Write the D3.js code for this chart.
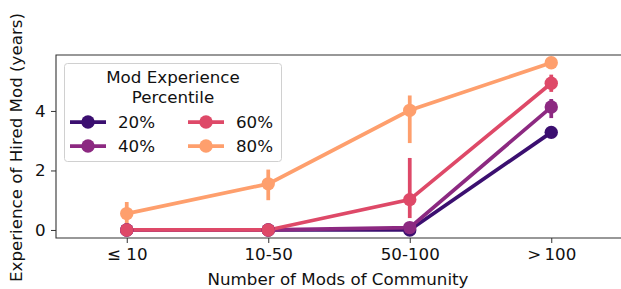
<!DOCTYPE html>
<html>
<head>
<meta charset="utf-8">
<script src="https://cdn.jsdelivr.net/npm/d3@7"></script>
<style>
  body { margin: 0; background: #fff; }
  svg { display: block; font-family: "DejaVu Sans", sans-serif; }
</style>
</head>
<body>
<div id="chart"></div>
<script>
// data
const categories = ["\u2264 10", "10-50", "50-100", ">\u2009100"];
const percentiles = ["20%", "40%", "60%", "80%"];
const colors = ["#3b0f70", "#8c2981", "#de4968", "#fe9f6d"];

const mean20 = [0, 0, 0, 3.28];
const mean40 = [0, 0, 0.08, 4.13];
const mean60 = [0, 0, 1.02, 4.93];
const mean80 = [0.55, 1.55, 4.02, 5.62];

const low20 = [0, 0, 0, 3.18];
const high20 = [0, 0, 0.02, 3.38];
const low40 = [0, 0, 0, 3.76];
const high40 = [0, 0, 0.2, 4.40];
const low60 = [0, 0, 0.40, 4.64];
const high60 = [0, 0, 2.42, 5.22];
const low80 = [-0.2, 1.0, 2.92, 5.50];
const high80 = [0.94, 2.03, 4.52, 5.72];

const yTicks = [0, 2, 4];

const series = [
    {name: percentiles[0], mean: mean20, low: low20, high: high20, color: colors[0]},
    {name: percentiles[1], mean: mean40, low: low40, high: high40, color: colors[1]},
    {name: percentiles[2], mean: mean60, low: low60, high: high60, color: colors[2]},
    {name: percentiles[3], mean: mean80, low: low80, high: high80, color: colors[3]}
];

const width = 621, height = 289;
const fontSize = 16.7;
const lw = 3.75, r = 6.7;
const plot = {left: 56, right: 622, top: 55, bottom: 238};

const svg = d3.select("#chart").append("svg")
    .attr("width", width)
    .attr("height", height);

const x = d3.scalePoint()
    .domain(categories)
    .range([plot.left, plot.right])
    .padding(0.5);

const y = d3.scaleLinear()
    .domain([-0.27, 5.88])
    .range([plot.bottom, plot.top]);

svg.append("clipPath").attr("id", "clip")
    .append("rect")
    .attr("x", plot.left).attr("y", plot.top)
    .attr("width", plot.right - plot.left)
    .attr("height", plot.bottom - plot.top);

const g = svg.append("g").attr("clip-path", "url(#clip)");

// lines and error bars per series
series.forEach(s => {
    const line = d3.line()
        .x((d, i) => x(categories[i]))
        .y(d => y(d));
    g.append("path")
        .datum(s.mean)
        .attr("d", line)
        .attr("fill", "none")
        .attr("stroke", s.color)
        .attr("stroke-width", lw);

    g.selectAll(null)
        .data(categories)
        .enter().append("line")
        .attr("x1", c => x(c))
        .attr("x2", c => x(c))
        .attr("y1", (c, i) => y(s.low[i]))
        .attr("y2", (c, i) => y(s.high[i]))
        .attr("stroke", s.color)
        .attr("stroke-width", lw);
});

// points on top
series.forEach(s => {
    g.selectAll(null)
        .data(s.mean)
        .enter().append("circle")
        .attr("cx", (d, i) => x(categories[i]))
        .attr("cy", d => y(d))
        .attr("r", r)
        .attr("fill", s.color);
});

// axes
const xAxis = svg.append("g")
    .attr("transform", `translate(0,${plot.bottom})`)
    .call(d3.axisBottom(x).tickSize(5).tickPadding(5.5).tickSizeOuter(0));
xAxis.select(".domain").remove();

const yAxis = svg.append("g")
    .attr("transform", `translate(${plot.left},0)`)
    .call(d3.axisLeft(y).tickValues(yTicks).tickFormat(d3.format("d")).tickSize(5).tickPadding(5.5));
yAxis.select(".domain").remove();

[xAxis, yAxis].forEach(a => {
    a.selectAll("text")
        .attr("fill", "#111")
        .style("font-size", fontSize + "px")
        .style("font-family", "DejaVu Sans");
    a.selectAll("line").attr("stroke", "#333").attr("stroke-width", 1);
});

// spines (right one sits off the canvas)
svg.append("path")
    .attr("d", `M${plot.right},${plot.top}H${plot.left}V${plot.bottom}H${plot.right}`)
    .attr("fill", "none")
    .attr("stroke", "#333")
    .attr("stroke-width", 1.1);

svg.append("text")
    .attr("x", 338)
    .attr("y", 285)
    .attr("text-anchor", "middle")
    .style("font-size", fontSize + "px")
    .attr("fill", "#111")
    .text("Number of Mods of Community");

svg.append("text")
    .attr("transform", "translate(22,147.5) rotate(-90)")
    .attr("text-anchor", "middle")
    .style("font-size", fontSize + "px")
    .attr("fill", "#111")
    .text("Experience of Hired Mod (years)");

// legend
const legend = svg.append("g");
legend.append("rect")
    .attr("x", 64.5).attr("y", 63.5)
    .attr("width", 217).attr("height", 98)
    .attr("rx", 3)
    .attr("fill", "#fff").attr("fill-opacity", 0.8)
    .attr("stroke", "#d0d0d0");

legend.append("text")
    .attr("x", 173).attr("y", 83)
    .attr("text-anchor", "middle")
    .style("font-size", fontSize + "px")
    .attr("fill", "#111")
    .text("Mod Experience");
legend.append("text")
    .attr("x", 173).attr("y", 103)
    .attr("text-anchor", "middle")
    .style("font-size", fontSize + "px")
    .attr("fill", "#111")
    .text("Percentile");

series.forEach((s, i) => {
    const col = Math.floor(i / 2), row = i % 2;
    const lx = 70 + col * 118, ly = 122 + row * 24;
    legend.append("line")
        .attr("x1", lx).attr("x2", lx + 36)
        .attr("y1", ly).attr("y2", ly)
        .attr("stroke", s.color).attr("stroke-width", lw);
    legend.append("circle")
        .attr("cx", lx + 18).attr("cy", ly).attr("r", r)
        .attr("fill", s.color);
    legend.append("text")
        .attr("x", lx + 48).attr("y", ly + 6)
        .style("font-size", fontSize + "px")
        .attr("fill", "#111")
        .text(s.name);
});
</script>
</body>
</html>
